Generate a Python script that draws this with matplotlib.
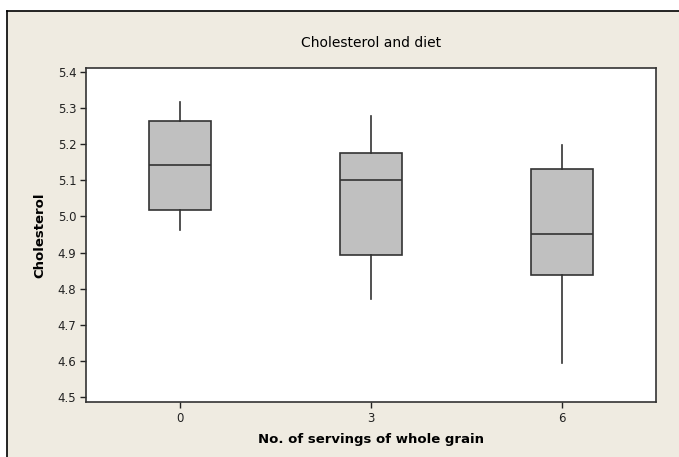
import matplotlib
matplotlib.use("Agg")
import matplotlib.pyplot as plt
from matplotlib.patches import Rectangle
from matplotlib.lines import Line2D

groups = ["0", "3", "6"]
positions = [0, 3, 6]
whislo = [4.961, 4.772, 4.594]
q1 = [5.019, 4.892, 4.839]
med = [5.142, 5.100, 4.950]
q3 = [5.264, 5.175, 5.131]
whishi = [5.317, 5.278, 5.197]
yticks = [4.5, 4.6, 4.7, 4.8, 4.9, 5.0, 5.1, 5.2, 5.3, 5.4]

bg = "#EFEBE1"
fig = plt.figure(figsize=(6.79, 4.57), dpi=100, facecolor="white")
W, H = 679, 457
# beige panel with black top/left border
fig.patches.append(Rectangle((7 / W, 0), 1 - 7 / W, 1 - 11 / H, transform=fig.transFigure,
                             facecolor=bg, edgecolor="none", zorder=-10))
fig.lines.append(Line2D([7 / W, 7 / W], [0, 1 - 11 / H], transform=fig.transFigure,
                        color="black", lw=1.2, zorder=-5))
fig.lines.append(Line2D([7 / W, 1], [1 - 11 / H, 1 - 11 / H], transform=fig.transFigure,
                        color="black", lw=1.2, zorder=-5))

ax = fig.add_axes([86 / W, 1 - 402 / H, (656 - 86) / W, (402 - 68) / H])
ax.set_zorder(1)
ax.set_facecolor("white")

stats = []
for i, g in enumerate(groups):
    stats.append(dict(label=g, whislo=whislo[i], q1=q1[i], med=med[i], q3=q3[i],
                      whishi=whishi[i], fliers=[]))
ax.bxp(stats, positions=positions, widths=0.97, patch_artist=True, showcaps=False,
       boxprops=dict(facecolor="#C0C0C0", edgecolor="#333333", linewidth=1.2),
       medianprops=dict(color="#333333", linewidth=1.2),
       whiskerprops=dict(color="#333333", linewidth=1.2),
       manage_ticks=False)

ax.set_xlim(-1.476, 7.476)
ax.set_ylim(4.486, 5.411)
ax.set_xticks(positions)
ax.set_xticklabels(groups)
ax.set_yticks(yticks)
ax.set_yticklabels([f"{v:.1f}" for v in yticks])
ax.tick_params(direction="out", length=4, width=1, labelsize=8.5, colors="#222222", pad=3)
for s in ax.spines.values():
    s.set_color("#333333")
    s.set_linewidth(1.2)

ax.set_xlabel("No. of servings of whole grain", fontsize=9.5, fontweight="bold", labelpad=6)
ax.set_ylabel("Cholesterol", fontsize=9.5, fontweight="bold", labelpad=8)
fig.text((86 + 656) / 2 / W, 1 - 43 / H, "Cholesterol and diet", ha="center", va="center",
         fontsize=10)

fig.savefig("out.png", dpi=100, facecolor=fig.get_facecolor())
